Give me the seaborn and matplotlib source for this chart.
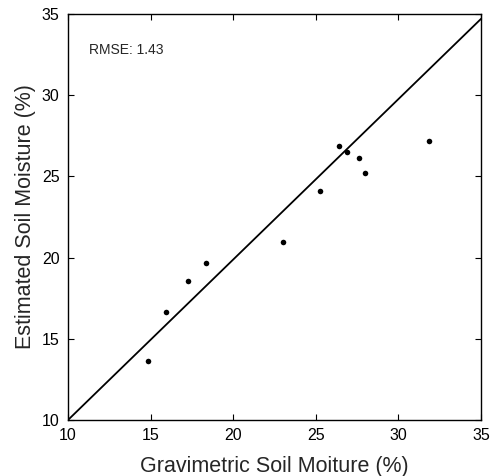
import matplotlib
matplotlib.use("Agg")
import matplotlib.pyplot as plt
import seaborn as sns
import pandas as pd

gravimetric = [14.86, 15.93, 17.25, 18.37, 23.01, 25.27, 26.40, 26.89, 27.62, 27.96, 31.85]
estimated = [13.63, 16.67, 18.56, 19.65, 20.98, 24.08, 26.87, 26.50, 26.13, 25.23, 27.16]
line_x = [10, 35]
line_y = [10, 34.7]
ticks = [10, 15, 20, 25, 30, 35]
rmse_label = "RMSE: 1.43"

sns.set_theme(style="ticks", rc={"xtick.direction": "in", "ytick.direction": "in",
                                  "xtick.top": True, "ytick.right": True})
plt.rcParams['font.family'] = ['Liberation Sans', 'DejaVu Sans']

df = pd.DataFrame({"x": gravimetric, "y": estimated})
fig = plt.figure(figsize=(4.91, 4.76), dpi=100)
ax = fig.add_axes([68/491, 1 - 420/476, (481-68)/491, (420-14)/476])

sns.lineplot(x=line_x, y=line_y, ax=ax, color="black", linewidth=1.3)
sns.scatterplot(data=df, x="x", y="y", ax=ax, color="black", s=16, edgecolor="black", linewidth=0)

ax.set_xlim(10, 35)
ax.set_ylim(10, 35)
ax.set_xticks(ticks)
ax.set_yticks(ticks)
ax.tick_params(which="major", direction="in", length=4, width=0.8, top=True, right=True,
               bottom=True, left=True, labelsize=11.5, colors="black", pad=6)
for s in ax.spines.values():
    s.set_visible(True)
    s.set_color("black")
    s.set_linewidth(1.0)
ax.set_xlabel("Gravimetric Soil Moiture (%)", fontsize=15.5, labelpad=9)
ax.set_ylabel("Estimated Soil Moisture (%)", fontsize=15.5, labelpad=4)
ax.text((89 - 68) / 413, (420 - 49.5) / 406, rmse_label, transform=ax.transAxes,
        fontsize=10, ha="left", va="center")

fig.savefig("out.png", dpi=100)
